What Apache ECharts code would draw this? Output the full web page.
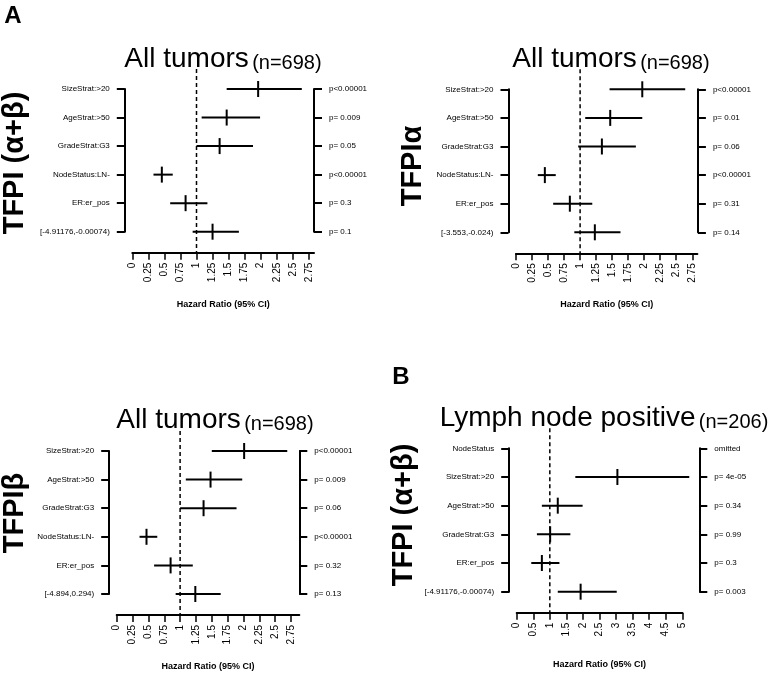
<!DOCTYPE html>
<html><head><meta charset="utf-8">
<script src="https://cdn.jsdelivr.net/npm/echarts@6/dist/echarts.min.js"></script>
<style>html,body{margin:0;padding:0;background:#fff}#c{width:778px;height:678px}</style>
</head><body><div id="c"></div>
<script>
// ---------- data ----------
const ticksQuarter = [0, 0.25, 0.5, 0.75, 1, 1.25, 1.5, 1.75, 2, 2.25, 2.5, 2.75];
const ticksHalf = [0, 0.5, 1, 1.5, 2, 2.5, 3, 3.5, 4, 4.5, 5];
const refValue = 1;

const rowsAB = ["SizeStrat:>20", "AgeStrat:>50", "GradeStrat:G3", "NodeStatus:LN-", "ER:er_pos", "[-4.91176,-0.00074)"];
const rowsA = ["SizeStrat:>20", "AgeStrat:>50", "GradeStrat:G3", "NodeStatus:LN-", "ER:er_pos", "[-3.553,-0.024)"];
const rowsB = ["SizeStrat:>20", "AgeStrat:>50", "GradeStrat:G3", "NodeStatus:LN-", "ER:er_pos", "[-4.894,0.294)"];
const rowsLN = ["NodeStatus", "SizeStrat:>20", "AgeStrat:>50", "GradeStrat:G3", "ER:er_pos", "[-4.91176,-0.00074)"];

// Panel 1: TFPI (a+b), all tumors
const p1Lower = [1.47, 1.08, 1.00, 0.33, 0.59, 0.94];
const p1Est   = [1.96, 1.47, 1.36, 0.46, 0.83, 1.25];
const p1Upper = [2.64, 1.99, 1.88, 0.63, 1.17, 1.66];
const p1P = ["p<0.00001", "p= 0.009", "p= 0.05", "p<0.00001", "p= 0.3", "p= 0.1"];

// Panel 2: TFPI alpha, all tumors
const p2Lower = [1.46, 1.08, 0.97, 0.34, 0.58, 0.91];
const p2Est   = [1.97, 1.47, 1.34, 0.45, 0.84, 1.23];
const p2Upper = [2.64, 1.97, 1.87, 0.62, 1.19, 1.63];
const p2P = ["p<0.00001", "p= 0.01", "p= 0.06", "p<0.00001", "p= 0.31", "p= 0.14"];

// Panel 3: TFPI beta, all tumors
const p3Lower = [1.50, 1.09, 1.00, 0.36, 0.59, 0.93];
const p3Est   = [2.01, 1.48, 1.37, 0.47, 0.85, 1.24];
const p3Upper = [2.69, 1.98, 1.89, 0.64, 1.20, 1.64];
const p3P = ["p<0.00001", "p= 0.009", "p= 0.06", "p<0.00001", "p= 0.32", "p= 0.13"];

// Panel 4: TFPI (a+b), lymph node positive (first row omitted)
const p4Lower = [null, 1.77, 0.76, 0.61, 0.44, 1.24];
const p4Est   = [null, 3.04, 1.24, 1.01, 0.76, 1.93];
const p4Upper = [null, 5.21, 1.99, 1.62, 1.29, 3.02];
const p4P = ["omitted", "p= 4e-05", "p= 0.34", "p= 0.99", "p= 0.3", "p= 0.003"];

// ---------- layout ----------
const FONT = '"Liberation Sans", Arial, Helvetica, sans-serif';
const panels = [
  {rows: rowsAB, lo: p1Lower, est: p1Est, hi: p1Upper, p: p1P, ticks: ticksQuarter, max: 2.83,
   grid: {left: 132.3, top: 89, width: 181.7, height: 142.7}, rOff: 0},
  {rows: rowsA, lo: p2Lower, est: p2Est, hi: p2Upper, p: p2P, ticks: ticksQuarter, max: 2.83,
   grid: {left: 516, top: 89.3, width: 181.4, height: 143}, rOff: 0.5},
  {rows: rowsB, lo: p3Lower, est: p3Est, hi: p3Upper, p: p3P, ticks: ticksQuarter, max: 2.88,
   grid: {left: 116.7, top: 451, width: 182.6, height: 143}, rOff: 0},
  {rows: rowsLN, lo: p4Lower, est: p4Est, hi: p4Upper, p: p4P, ticks: ticksHalf, max: 5,
   grid: {left: 516.7, top: 448.3, width: 165.6, height: 143.4}, rOff: 17}
];

const grids = [], xAxes = [], yAxes = [], series = [];
panels.forEach((p, i) => {
  grids.push(Object.assign({containLabel: false, outerBoundsMode: 'none', show: false}, p.grid));
  xAxes.push({
    gridIndex: i, type: 'value', min: 0, max: p.max, position: 'bottom', offset: 21,
    axisLine: {show: true, onZero: false, lineStyle: {color: '#000', width: 2}},
    axisTick: {show: true, length: 7, customValues: p.ticks, lineStyle: {color: '#000', width: 1.5}},
    axisLabel: {customValues: p.ticks, rotate: 90, margin: 10, fontSize: 10, color: '#000', fontFamily: FONT,
                formatter: v => String(v)},
    splitLine: {show: false},
    name: 'Hazard Ratio (95% CI)', nameLocation: 'middle', nameGap: 47,
    nameTextStyle: {fontSize: 9, fontWeight: 'bold', color: '#000', fontFamily: FONT}
  });
  yAxes.push({
    gridIndex: i, type: 'value', inverse: true, min: 0, max: 5, interval: 1, position: 'left', offset: 7.5,
    axisLine: {show: true, onZero: false, lineStyle: {color: '#000', width: 2}},
    axisTick: {show: true, length: 8, lineStyle: {color: '#000', width: 2}},
    axisLabel: {margin: 15, fontSize: 8, color: '#000', fontFamily: FONT, formatter: v => p.rows[v]},
    splitLine: {show: false}
  });
  yAxes.push({
    gridIndex: i, type: 'value', inverse: true, min: 0, max: 5, interval: 1, position: 'right', offset: p.rOff,
    axisLine: {show: true, onZero: false, lineStyle: {color: '#000', width: 2}},
    axisTick: {show: true, length: 8, lineStyle: {color: '#000', width: 2}},
    axisLabel: {margin: 15, fontSize: 8, color: '#000', fontFamily: FONT, formatter: v => p.p[v]},
    splitLine: {show: false}
  });
  const data = [];
  p.rows.forEach((r, k) => {
    if (p.est[k] != null) data.push([k, p.lo[k], p.est[k], p.hi[k]]);
  });
  series.push({
    type: 'custom', xAxisIndex: i, yAxisIndex: 2 * i, clip: false, silent: true,
    data: [[refValue]], encode: {x: 0},
    renderItem: (params, api) => {
      const t = api.coord([api.value(0), 0]);
      const b = api.coord([api.value(0), 5]);
      return {type: 'line', shape: {x1: t[0], y1: t[1] - 20, x2: b[0], y2: b[1] + 21},
              style: {stroke: '#000', lineWidth: 1.5, lineDash: [4, 3]}};
    }
  });
  series.push({
    type: 'custom', xAxisIndex: i, yAxisIndex: 2 * i, clip: false, silent: true,
    data: data, encode: {x: [1, 2, 3], y: 0},
    renderItem: (params, api) => {
      const r = api.value(0);
      const a = api.coord([api.value(1), r]);
      const e = api.coord([api.value(2), r]);
      const b = api.coord([api.value(3), r]);
      return {type: 'group', children: [
        {type: 'line', shape: {x1: a[0], y1: a[1], x2: b[0], y2: b[1]}, style: {stroke: '#000', lineWidth: 2}},
        {type: 'line', shape: {x1: e[0], y1: e[1] - 8, x2: e[0], y2: e[1] + 8}, style: {stroke: '#000', lineWidth: 2}}
      ]};
    }
  });
});

function title(x, y, main, sub) {
  return {type: 'text', x: x, y: y, silent: true,
    style: {text: '{a|' + main + '} {b|' + sub + '}', align: 'center', verticalAlign: 'bottom',
      rich: {a: {fontSize: 28, fontFamily: FONT, fill: '#000', verticalAlign: 'bottom', lineHeight: 32},
             b: {fontSize: 20, fontFamily: FONT, fill: '#000', verticalAlign: 'bottom', lineHeight: 32}}}};
}
function sideLabel(x, y, txt) {
  return {type: 'text', x: x, y: y, rotation: Math.PI / 2, silent: true,
    style: {text: txt, align: 'center', verticalAlign: 'middle', fontSize: 29, fontWeight: 'bold', fontFamily: FONT, fill: '#000'}};
}
function letter(x, y, txt) {
  return {type: 'text', x: x, y: y, silent: true,
    style: {text: txt, align: 'center', verticalAlign: 'middle', fontSize: 24, fontWeight: 'bold', fontFamily: FONT, fill: '#000'}};
}

const graphics = [
  letter(13, 16, 'A'),
  letter(401, 377, 'B'),
  title(223, 73, 'All tumors', '(n=698)'),
  title(611, 73, 'All tumors', '(n=698)'),
  title(215, 434, 'All tumors', '(n=698)'),
  title(604, 432, 'Lymph node positive', '(n=206)'),
  sideLabel(15, 163, 'TFPI (α+β)'),
  sideLabel(413, 166, 'TFPIα'),
  sideLabel(15, 513, 'TFPIβ'),
  sideLabel(404, 515, 'TFPI (α+β)')
];

const chart = echarts.init(document.getElementById('c'), null, {renderer: 'canvas'});
chart.setOption({
  animation: false,
  backgroundColor: '#fff',
  textStyle: {fontFamily: FONT},
  grid: grids, xAxis: xAxes, yAxis: yAxes, series: series, graphic: graphics
});
</script></body></html>
